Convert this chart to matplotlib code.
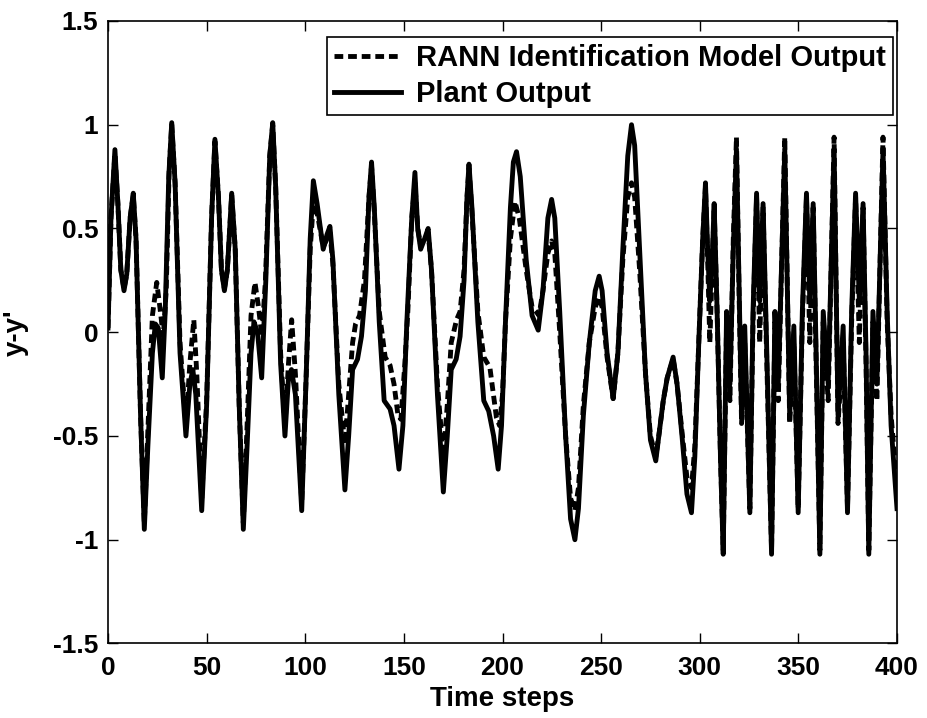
import numpy as np
import matplotlib
matplotlib.use('Agg')
import matplotlib.pyplot as plt

plt.rcParams['font.family'] = ['Liberation Sans', 'DejaVu Sans']
plt.rcParams['font.weight'] = 'bold'

# Plant output (solid) - at the turning points
t_plant = [0, 1.5, 3.5, 5, 6.5, 8.1, 9.5, 11.2, 12.8, 14.2, 16.5, 18.4, 20.2, 22.5, 24, 25.5, 27.5, 29,
           30.8, 32.3, 34, 36.5, 39.5, 41.5, 43, 44.5, 47.5, 50, 52.5, 54.2, 56, 57.5, 59, 60.5, 62.7,
           64.5, 66.5, 68.6, 70.5, 72.5, 74, 75.8, 77.9, 80, 82, 83.5, 85, 87.5, 89.7, 91.5, 93, 95,
           98.2, 100.5, 102.5, 104.1, 106, 109.1, 111, 112.5, 114, 117, 120.1, 122, 124, 126.5, 128.5,
           130.5, 132.3, 133.6, 135, 137.5, 140, 143, 145, 147.5, 149.5, 151.5, 154, 155.6, 157, 158.5,
           160.5, 162.3, 164, 167, 170, 172, 174, 176.5, 178.5, 180.5, 182, 183, 184.5, 187.5, 190.5,
           193, 195.5, 197.8, 199.5, 201.5, 204, 205.5, 207.1, 209, 212, 215, 218.1, 220.5, 223, 224.9,
           226.5, 229, 232, 234.5, 236.7, 238.5, 241, 244, 247, 249, 250.5, 253, 256.1, 258.5, 261,
           263.5, 265.4, 267, 269.5, 272.5, 275, 277.7, 279.5, 281.5, 283.5, 286.5, 288.5, 291, 293.5,
           295.8, 297.5, 299.5, 301.5, 302.9, 304, 305.1, 306.3, 307.3, 308.8, 310.5, 311.9, 313.6,
           315.3, 317, 318.6, 320, 321.2, 322.8, 325.4, 327, 328.8, 330.4, 332.1, 334, 336.4, 338.1,
           339.8, 343.1, 345.6, 347.7, 349.9, 352, 354.1, 355.8, 357.5, 359, 360.9, 362.6, 365.1,
           368.1, 370.1, 372.7, 374.9, 377, 379, 380.9, 382.8, 384.3, 385.7, 387.8, 389.8, 392.9, 395,
           397, 398.9, 400]
y_plant = [0.02, 0.55, 0.88, 0.62, 0.30, 0.20, 0.28, 0.55, 0.67, 0.45, -0.40, -0.95, -0.55, -0.10, 0.04,
           0.02, -0.22, 0.10, 0.75, 1.01, 0.72, -0.10, -0.50, -0.25, -0.18, -0.30, -0.86, -0.35, 0.55,
           0.93, 0.65, 0.30, 0.20, 0.30, 0.67, 0.40, -0.35, -0.95, -0.55, -0.10, 0.05, 0.00, -0.22, 0.25,
           0.85, 1.01, 0.70, -0.15, -0.50, -0.22, -0.18, -0.30, -0.86, -0.20, 0.45, 0.73, 0.62, 0.40,
           0.47, 0.51, 0.35, -0.30, -0.76, -0.50, -0.18, -0.13, -0.02, 0.20, 0.65, 0.82, 0.60, 0.05,
           -0.33, -0.37, -0.45, -0.66, -0.45, 0.05, 0.55, 0.77, 0.50, 0.40, 0.45, 0.50, 0.30, -0.30,
           -0.77, -0.50, -0.18, -0.13, -0.02, 0.25, 0.65, 0.81, 0.60, 0.05, -0.33, -0.38, -0.50, -0.66,
           -0.45, 0.05, 0.60, 0.82, 0.87, 0.75, 0.35, 0.08, 0.01, 0.20, 0.55, 0.64, 0.55, 0.10, -0.50,
           -0.90, -1.00, -0.85, -0.40, -0.05, 0.20, 0.27, 0.20, -0.10, -0.32, -0.10, 0.40, 0.85, 1.00,
           0.90, 0.40, -0.20, -0.52, -0.62, -0.48, -0.33, -0.22, -0.12, -0.25, -0.50, -0.78, -0.87,
           -0.60, -0.05, 0.45, 0.72, 0.40, 0.15, 0.35, 0.62, 0.10, -0.60, -1.07, 0.10, -0.25, 0.40,
           0.88, 0.20, -0.40, 0.03, -0.87, 0.10, 0.67, 0.15, 0.62, -0.10, -1.07, 0.10, -0.25, 0.88,
           -0.40, 0.03, -0.87, 0.10, 0.67, 0.15, 0.62, -0.10, -1.07, 0.10, -0.25, 0.88, -0.40, 0.03,
           -0.87, 0.10, 0.67, 0.15, 0.62, -0.10, -1.07, 0.10, -0.25, 0.88, 0.10, -0.45, -0.70, -0.85]

# RANN identification model output (dashed)
t_model = [0, 1.5, 3.5, 5, 6.5, 8.1, 9.5, 11.2, 12.8, 14.2, 16.5, 18.4, 20.3, 22.5, 24.7, 26.3, 28, 29.5,
           31, 32.3, 34, 36.5, 39.5, 41.5, 43.5, 45, 47.5, 50, 52.5, 54.2, 56, 57.5, 59, 60.5, 62.7, 64.5,
           66.5, 68.6, 70.5, 72.5, 74.5, 76.3, 78, 79.8, 82, 83.5, 85, 87.5, 89.7, 91.5, 93.1, 95, 98.2,
           100.5, 102.5, 104.3, 106.5, 109.1, 111, 112.5, 114, 117, 120.1, 122, 124, 125.5, 127.5, 130,
           132.3, 133.6, 135, 137.5, 140.5, 143, 145, 147, 148.5, 150.5, 152, 154, 155.6, 157, 158.5,
           160.5, 162.3, 164, 167, 170, 172, 174, 176.7, 178.5, 180.5, 182, 183, 184.5, 187.5, 190.5,
           193.6, 196.9, 198.5, 200, 201.5, 204, 206.3, 208.5, 212, 215, 217, 218.5, 220.5, 223, 224.9,
           226.5, 229, 232, 234.5, 236.7, 238.5, 241, 244, 247, 249, 250.5, 253, 256.1, 258.5, 261,
           263.5, 265.4, 267, 269.5, 272.5, 275, 277.7, 279.5, 281.5, 283.5, 286.5, 288.5, 291, 293.5,
           295.8, 297.5, 299.5, 301.5, 302.9, 304, 305.1, 306.3, 307.3, 308.8, 310.5, 311.9, 313.6,
           315.3, 317, 318.6, 320, 321.2, 322.8, 325.4, 327, 328.8, 330.4, 332.1, 334, 336.4, 338.1,
           339.8, 343.1, 345.6, 347.7, 349.9, 352, 354.1, 355.8, 357.5, 359, 360.9, 362.6, 365.1,
           368.1, 370.1, 372.7, 374.9, 377, 379, 380.9, 382.8, 384.3, 385.7, 387.8, 389.8, 392.9, 395,
           397, 398.9, 400]
y_model = [0.02, 0.55, 0.86, 0.62, 0.30, 0.21, 0.28, 0.55, 0.66, 0.45, -0.40, -0.92, -0.45, 0.08, 0.24,
           0.12, -0.02, 0.20, 0.78, 1.00, 0.72, -0.05, -0.45, -0.15, 0.06, -0.20, -0.80, -0.33, 0.55,
           0.92, 0.65, 0.30, 0.21, 0.30, 0.66, 0.40, -0.35, -0.92, -0.45, 0.08, 0.24, 0.12, -0.02, 0.25,
           0.85, 1.00, 0.70, -0.10, -0.45, -0.15, 0.06, -0.20, -0.82, -0.20, 0.40, 0.65, 0.55, 0.41,
           0.45, 0.48, 0.33, -0.25, -0.54, -0.30, -0.05, 0.04, 0.08, 0.25, 0.65, 0.80, 0.58, 0.10,
           -0.12, -0.16, -0.25, -0.40, -0.42, -0.15, 0.10, 0.55, 0.72, 0.50, 0.42, 0.46, 0.48, 0.30,
           -0.25, -0.60, -0.35, -0.05, 0.06, 0.10, 0.30, 0.65, 0.79, 0.58, 0.10, -0.12, -0.17, -0.41,
           -0.45, -0.30, 0.05, 0.45, 0.63, 0.55, 0.30, 0.12, 0.10, 0.08, 0.20, 0.38, 0.44, 0.38, 0.00,
           -0.50, -0.80, -0.86, -0.75, -0.35, -0.05, 0.12, 0.17, 0.12, -0.12, -0.32, -0.10, 0.35, 0.65,
           0.72, 0.65, 0.30, -0.20, -0.50, -0.60, -0.48, -0.33, -0.22, -0.13, -0.25, -0.48, -0.70,
           -0.75, -0.55, -0.05, 0.45, 0.70, 0.35, -0.05, 0.30, 0.60, 0.10, -0.60, -1.05, 0.05, -0.33,
           0.45, 0.94, 0.15, -0.44, -0.05, -0.85, 0.05, 0.65, -0.05, 0.60, -0.15, -1.05, 0.05, -0.33,
           0.94, -0.44, -0.05, -0.85, 0.05, 0.65, -0.05, 0.60, -0.15, -1.05, 0.05, -0.33, 0.94, -0.44,
           -0.05, -0.85, 0.05, 0.65, -0.05, 0.60, -0.15, -1.05, 0.05, -0.33, 0.94, 0.05, -0.40, -0.62,
           -0.72]

x_ticks = [0, 50, 100, 150, 200, 250, 300, 350, 400]
y_ticks = [-1.5, -1, -0.5, 0, 0.5, 1, 1.5]
y_ticklabels = ['-1.5', '-1', '-0.5', '0', '0.5', '1', '1.5']

fig = plt.figure(figsize=(9.28, 7.18), dpi=100)
ax = fig.add_axes([0.1164, 0.1038, 0.8502, 0.8670])

ax.plot(t_model, y_model, color='black', linestyle=(0, (1.8, 1.0)), linewidth=3.5,
        dash_joinstyle='round', label='RANN Identification Model Output')
ax.plot(t_plant, y_plant, color='black', linestyle='-', linewidth=3.5,
        solid_joinstyle='round', label='Plant Output')

ax.set_xlim(0, 400)
ax.set_ylim(-1.5, 1.5)
ax.set_xticks(x_ticks)
ax.set_yticks(y_ticks)
ax.set_yticklabels(y_ticklabels)
ax.tick_params(direction='in', length=7, width=1, top=True, right=True, labelsize=19)
ax.tick_params(axis='x', pad=9)
ax.tick_params(axis='y', pad=7)
for lab in ax.get_xticklabels() + ax.get_yticklabels():
    lab.set_fontweight('bold')
for sp in ax.spines.values():
    sp.set_linewidth(1.2)

ax.set_xlabel('Time steps', fontsize=20, fontweight='bold', labelpad=4)
ax.set_ylabel("y-y'", fontsize=20, fontweight='bold', labelpad=17)

leg = ax.legend(loc='upper right', bbox_to_anchor=(0.995, 0.974), fontsize=21, frameon=True,
                fancybox=False, framealpha=1, edgecolor='black', handlelength=2.3, borderpad=0.25,
                labelspacing=0.25, handletextpad=0.5, borderaxespad=0)
leg.get_frame().set_linewidth(1.2)
for txt in leg.get_texts():
    txt.set_fontweight('bold')

fig.savefig('out.png', dpi=100)
